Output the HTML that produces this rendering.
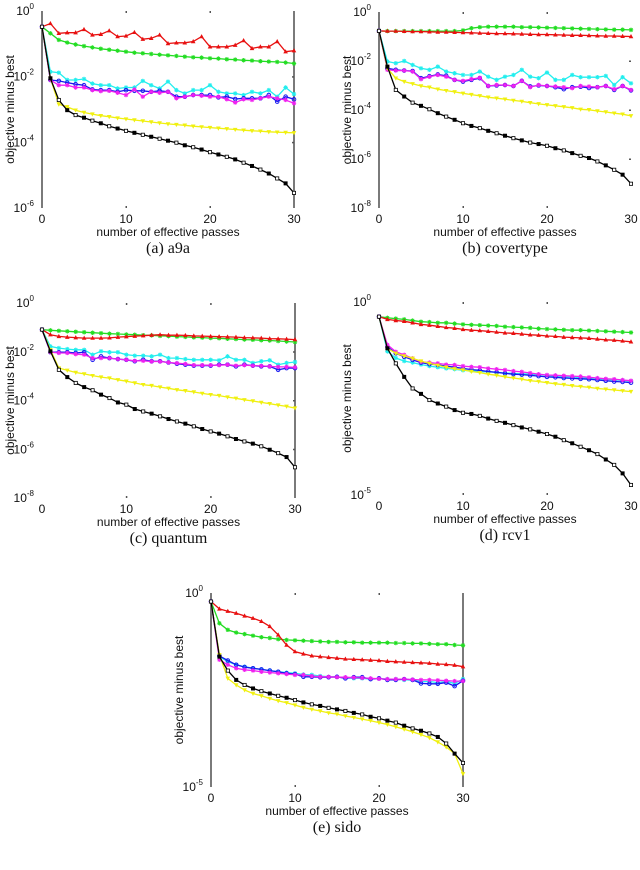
<!DOCTYPE html>
<html><head><meta charset="utf-8"><style>
html,body{margin:0;padding:0;background:#fff;}
svg{display:block;font-family:"Liberation Sans",sans-serif;}
.cap{font-family:"Liberation Serif",serif;font-size:16px;}
</style></head><body>
<svg id="fig" width="640" height="870" viewBox="0 0 640 870" xmlns="http://www.w3.org/2000/svg"></svg>
<script>
// values are -log10(objective minus best), per effective pass 0..30
const passes = [0,1,2,3,4,5,6,7,8,9,10,11,12,13,14,15,16,17,18,19,20,21,22,23,24,25,26,27,28,29,30];
const aRed=[.48,.38,.68,.66,.66,.56,.73,.71,.60,.78,.76,.65,.86,.83,.73,.99,.97,.97,.93,.78,1.09,1.09,1.09,1.04,.90,1.14,1.09,1.09,.93,1.24,1.21];
const aGreen=[.48,.68,.88,.96,1.02,1.07,1.11,1.15,1.18,1.21,1.24,1.27,1.29,1.31,1.33,1.35,1.37,1.39,1.41,1.42,1.44,1.45,1.47,1.48,1.5,1.51,1.53,1.54,1.55,1.57,1.6];
const aCyan=[.48,1.85,1.88,2.1,2.1,2.07,2.21,2.26,2.26,2.36,2.33,2.33,2.13,2.26,2.36,2.15,2.41,2.51,2.41,2.41,2.26,2.46,2.51,2.51,2.56,2.46,2.51,2.41,2.61,2.33,2.53];
const aBlue=[.48,2.1,2.13,2.18,2.23,2.26,2.39,2.41,2.41,2.46,2.41,2.43,2.43,2.46,2.43,2.46,2.61,2.61,2.56,2.56,2.56,2.63,2.61,2.68,2.66,2.66,2.66,2.56,2.76,2.61,2.69];
const aMagenta=[.48,2.1,2.26,2.26,2.33,2.33,2.41,2.44,2.43,2.49,2.56,2.39,2.61,2.46,2.49,2.46,2.66,2.61,2.56,2.58,2.61,2.61,2.69,2.79,2.69,2.71,2.66,2.61,2.66,2.71,2.81];
const aYellow=[.48,2.05,2.84,2.92,3.02,3.09,3.14,3.19,3.22,3.26,3.29,3.32,3.35,3.38,3.41,3.44,3.46,3.48,3.51,3.53,3.55,3.57,3.59,3.61,3.63,3.65,3.66,3.68,3.69,3.7,3.71];
const aBlack=[.48,2.05,2.71,3.02,3.17,3.25,3.34,3.42,3.51,3.58,3.65,3.71,3.77,3.83,3.89,3.95,4.01,4.09,4.15,4.22,4.3,4.37,4.44,4.52,4.62,4.72,4.83,4.95,5.1,5.25,5.54];

const bRed=[.77,.78,.78,.79,.8,.8,.81,.82,.82,.83,.84,.85,.86,.87,.88,.88,.89,.9,.91,.92,.92,.93,.94,.95,.95,.96,.97,.98,.98,.99,1.0];
const bGreen=[.78,.78,.78,.78,.78,.78,.78,.78,.78,.78,.75,.66,.62,.6,.6,.6,.6,.62,.62,.63,.64,.65,.66,.67,.68,.69,.7,.71,.72,.72,.73];
const bCyan=[.77,2.02,2.09,2.0,2.16,2.3,2.36,2.23,2.43,2.5,2.57,2.57,2.43,2.64,2.77,2.64,2.57,2.36,2.64,2.7,2.47,2.77,2.77,2.57,2.66,2.66,2.66,2.61,2.98,2.66,2.91];
const bBlue=[.77,2.3,2.36,2.39,2.41,2.7,2.62,2.55,2.6,2.77,2.84,2.77,2.7,3.02,3.0,2.98,3.02,2.81,3.04,3.0,3.02,3.07,3.15,3.07,3.05,3.1,3.07,3.02,3.18,3.02,3.2];
const bMagenta=[.77,2.36,2.39,2.39,2.43,2.74,2.64,2.57,2.64,2.77,2.81,2.74,2.68,3.02,2.98,2.98,3.02,2.81,3.07,2.98,3.02,3.04,3.07,3.11,3.02,3.04,3.07,3.02,3.15,3.02,3.18];
const bYellow=[.77,2.3,2.7,2.84,2.93,3.02,3.07,3.15,3.21,3.26,3.32,3.37,3.42,3.48,3.52,3.56,3.61,3.65,3.7,3.75,3.79,3.83,3.87,3.91,3.97,3.99,4.04,4.08,4.13,4.17,4.24];
const bBlack=[.77,2.23,3.18,3.45,3.7,3.83,3.97,4.13,4.27,4.4,4.54,4.65,4.74,4.85,4.95,5.05,5.15,5.24,5.33,5.39,5.46,5.56,5.65,5.76,5.87,5.96,6.1,6.26,6.44,6.64,7.01];

const cRed=[1.09,1.3,1.37,1.4,1.42,1.44,1.44,1.44,1.43,1.4,1.38,1.36,1.34,1.32,1.3,1.32,1.32,1.33,1.35,1.36,1.37,1.38,1.39,1.4,1.42,1.43,1.44,1.46,1.47,1.48,1.5];
const cGreen=[1.09,1.12,1.14,1.16,1.18,1.2,1.22,1.24,1.26,1.27,1.29,1.3,1.32,1.33,1.35,1.36,1.38,1.39,1.41,1.42,1.44,1.45,1.47,1.48,1.5,1.51,1.53,1.54,1.56,1.58,1.6];
const cCyan=[1.09,1.78,1.85,1.89,1.92,1.92,2.12,1.98,2.02,2.02,2.12,2.16,2.16,2.19,2.12,2.26,2.26,2.3,2.33,2.33,2.33,2.35,2.19,2.33,2.33,2.46,2.39,2.35,2.53,2.46,2.42];
const cBlue=[1.09,2.02,2.02,2.02,2.05,2.02,2.33,2.19,2.26,2.3,2.33,2.39,2.33,2.39,2.39,2.44,2.49,2.53,2.57,2.57,2.57,2.53,2.53,2.6,2.53,2.57,2.6,2.6,2.74,2.67,2.67];
const cMagenta=[1.09,2.02,2.05,2.05,2.1,2.12,2.26,2.26,2.26,2.3,2.33,2.37,2.37,2.4,2.4,2.44,2.47,2.5,2.55,2.55,2.55,2.55,2.53,2.57,2.55,2.57,2.58,2.6,2.62,2.62,2.64];
const cYellow=[1.09,1.92,2.67,2.76,2.85,2.91,2.98,3.04,3.08,3.15,3.21,3.28,3.35,3.39,3.45,3.5,3.56,3.6,3.65,3.71,3.76,3.8,3.86,3.91,3.97,4.02,4.08,4.13,4.19,4.24,4.31];
const cBlack=[1.09,1.98,2.74,3.04,3.28,3.45,3.58,3.76,3.9,4.08,4.17,4.35,4.45,4.54,4.65,4.76,4.86,4.95,5.06,5.17,5.27,5.36,5.47,5.58,5.68,5.77,5.88,6.02,6.16,6.32,6.74];

const dRed=[.38,.45,.48,.5,.54,.58,.6,.63,.66,.68,.71,.73,.74,.76,.78,.8,.81,.83,.85,.86,.88,.89,.91,.92,.93,.94,.96,.98,.99,1.01,1.03];
const dGreen=[.38,.41,.43,.45,.48,.51,.52,.54,.54,.56,.58,.59,.6,.61,.62,.64,.65,.66,.67,.69,.70,.71,.72,.73,.73,.74,.75,.76,.77,.78,.79];
const dCyan=[.38,1.28,1.45,1.53,1.57,1.62,1.66,1.69,1.72,1.74,1.77,1.78,1.8,1.81,1.82,1.84,1.85,1.86,1.87,1.88,1.9,1.92,1.94,1.94,1.96,1.98,1.99,2.0,2.02,2.03,2.05];
const dBlue=[.38,1.16,1.33,1.42,1.5,1.57,1.61,1.63,1.66,1.69,1.72,1.75,1.77,1.8,1.82,1.85,1.87,1.88,1.9,1.92,1.94,1.95,1.97,1.98,1.99,2.0,2.02,2.04,2.06,2.07,2.09];
const dMagenta=[.38,1.11,1.29,1.37,1.46,1.55,1.57,1.59,1.62,1.63,1.66,1.68,1.69,1.72,1.74,1.76,1.79,1.81,1.84,1.87,1.89,1.9,1.91,1.92,1.93,1.95,1.97,1.99,2.0,2.02,2.04];
const dYellow=[.38,1.2,1.33,1.4,1.46,1.53,1.59,1.64,1.69,1.73,1.76,1.8,1.83,1.87,1.9,1.94,1.97,2.0,2.04,2.06,2.09,2.12,2.14,2.17,2.19,2.21,2.24,2.26,2.28,2.3,2.32];
const dBlack=[.38,1.2,1.59,1.94,2.24,2.38,2.54,2.63,2.71,2.8,2.87,2.9,2.95,3.02,3.08,3.13,3.19,3.25,3.3,3.36,3.42,3.49,3.58,3.66,3.75,3.84,3.94,4.08,4.22,4.44,4.74];

const eRed=[.22,.41,.47,.52,.59,.65,.73,.86,1.08,1.34,1.51,1.57,1.62,1.64,1.66,1.68,1.7,1.71,1.72,1.73,1.74,1.76,1.77,1.78,1.79,1.8,1.81,1.83,1.84,1.86,1.9];
const eGreen=[.22,.78,.95,1.02,1.06,1.1,1.14,1.16,1.19,1.21,1.22,1.23,1.24,1.25,1.26,1.26,1.27,1.27,1.28,1.28,1.28,1.28,1.29,1.29,1.3,1.3,1.31,1.32,1.32,1.34,1.35];
const eCyan=[.22,1.64,1.77,1.85,1.9,1.94,1.97,2.0,2.03,2.05,2.07,2.1,2.11,2.14,2.16,2.17,2.18,2.2,2.2,2.22,2.2,2.22,2.22,2.24,2.24,2.28,2.28,2.31,2.28,2.33,2.22];
const eBlue=[.22,1.62,1.74,1.85,1.91,1.94,1.97,2.0,2.03,2.07,2.09,2.16,2.16,2.17,2.17,2.16,2.2,2.17,2.17,2.22,2.2,2.24,2.24,2.22,2.24,2.33,2.34,2.34,2.31,2.4,2.26];
const eMagenta=[.22,1.72,1.85,1.94,1.98,2.0,2.03,2.05,2.07,2.09,2.11,2.11,2.14,2.16,2.16,2.17,2.17,2.18,2.19,2.2,2.21,2.22,2.22,2.22,2.23,2.24,2.24,2.25,2.26,2.27,2.27];
const eYellow=[.22,1.59,2.2,2.37,2.5,2.59,2.65,2.72,2.78,2.83,2.89,2.95,3.0,3.04,3.09,3.12,3.17,3.21,3.25,3.29,3.34,3.39,3.45,3.51,3.58,3.65,3.73,3.84,3.97,4.14,4.66];
const eBlack=[.22,1.64,2.0,2.24,2.37,2.46,2.53,2.59,2.65,2.7,2.76,2.82,2.87,2.91,2.96,3.0,3.04,3.09,3.13,3.19,3.23,3.29,3.34,3.42,3.49,3.55,3.62,3.71,3.88,4.14,4.38];

const xTicks=[0,10,20,30];
const NS='http://www.w3.org/2000/svg';
const svg=document.getElementById('fig');
function mk(tag,attrs,parent){const e=document.createElementNS(NS,tag);for(const k in attrs)e.setAttribute(k,attrs[k]);(parent||svg).appendChild(e);return e;}

const COLORS={red:'#e81010',green:'#22dd22',cyan:'#22eeee',blue:'#1818f0',magenta:'#f020f0',yellow:'#f0f010',black:'#000000'};
const MARK={red:'tri',green:'star',cyan:'star',blue:'circ',magenta:'star',yellow:'dtri',black:'sq'};

function panel(id,x0,x1,yTop,yBot,decades,labelStep,caption,series,showL,showR){
  const g=mk('g',{});
  
  
  const sx=v=>x0+(x1-x0)*v/30;
  const sy=v=>yTop+(yBot-yTop)*v/decades;
  if(showL){
    const la=mk('line',{x1:x0,y1:yTop,x2:x0,y2:yBot,stroke:'#7a7a7a','stroke-width':2},g);
    
    
  }
  if(showR){
    const ra=mk('line',{x1:x1,y1:yTop,x2:x1,y2:yBot,stroke:'#7a7a7a','stroke-width':2},g);
    
    
  }
  xTicks.forEach(t=>{
    const X=sx(t);
    if(t>0&&t<30){mk('rect',{x:X-0.5,y:yTop,width:1.5,height:2,fill:'#555'},g);mk('rect',{x:X-0.5,y:yBot-2,width:1.5,height:2,fill:'#555'},g);}
    const tl=mk('text',{x:X,y:yBot+15,'font-size':12,'text-anchor':'middle',fill:'#111'},g);
    tl.textContent=t;
    
    
  });
  for(let d=0;d<=decades;d+=labelStep){
    const Y=sy(d);
    const tl=mk('text',{x:x0-8,y:Y+4,'font-size':12,'text-anchor':'end',fill:'#111'},g);
    
    
    tl.appendChild(document.createTextNode('10'));
    const sup=mk('tspan',{dy:-6,'font-size':8},tl);
    sup.textContent=d===0?'0':'-'+d;
    if(d>0&&d<decades) mk('rect',{x:x1-2,y:Y-0.5,width:2,height:1.5,fill:'#555'},g);
  }
  const yl=mk('text',{x:0,y:0,'font-size':12,'text-anchor':'middle',fill:'#111',transform:`translate(${x0-28},${(yTop+yBot)/2}) rotate(-90)`},g);
  yl.textContent='objective minus best';
  
  
  const xl=mk('text',{x:(x0+x1)/2,y:yBot+28,'font-size':12,'text-anchor':'middle',fill:'#111'},g);
  xl.textContent='number of effective passes';
  
  
  const cp=mk('text',{x:(x0+x1)/2,y:yBot+45,'text-anchor':'middle',fill:'#111',class:'cap'},g);
  cp.textContent=caption;
  
  
  const order=['green','red','cyan','blue','magenta','yellow','black'];
  order.forEach(name=>{
    const vals=series[name];const c=COLORS[name];
    const sg=mk('g',{},g);
    
    
    const pts=vals.map((v,i)=>sx(passes[i]).toFixed(1)+','+sy(v).toFixed(1)).join(' ');
    const pl=mk('polyline',{points:pts,fill:'none',stroke:c,'stroke-width':1.3},sg);
    
    
    vals.forEach((v,i)=>{
      const X=sx(passes[i]),Y=sy(v);let m;const k=MARK[name];
      if(k==='tri')m=mk('path',{d:`M${X} ${Y-2.5}L${X+2.3} ${Y+1.7}L${X-2.3} ${Y+1.7}Z`,fill:c},sg);
      else if(k==='dtri')m=mk('path',{d:`M${X} ${Y+2.5}L${X+2.3} ${Y-1.7}L${X-2.3} ${Y-1.7}Z`,fill:c},sg);
      else if(k==='circ')m=mk('circle',{cx:X,cy:Y,r:1.8,fill:'none',stroke:c,'stroke-width':1},sg);
      else if(k==='sq')m=mk('rect',{x:X-1.6,y:Y-1.6,width:3.2,height:3.2,fill:i%2?'#000':'#fff',stroke:'#000','stroke-width':0.8},sg);
      else m=mk('path',{d:`M${X-2.2} ${Y}H${X+2.2}M${X} ${Y-2.2}V${Y+2.2}M${X-1.6} ${Y-1.6}L${X+1.6} ${Y+1.6}M${X-1.6} ${Y+1.6}L${X+1.6} ${Y-1.6}`,stroke:c,'stroke-width':1},sg);
      
      
    });
  });
}
panel('a9a',42,294,11,208,6,2,'(a)  a9a',{red:aRed,green:aGreen,cyan:aCyan,blue:aBlue,magenta:aMagenta,yellow:aYellow,black:aBlack},true,true);
panel('covertype',379,631,12,208,8,2,'(b)  covertype',{red:bRed,green:bGreen,cyan:bCyan,blue:bBlue,magenta:bMagenta,yellow:bYellow,black:bBlack},true,false);
panel('quantum',42,295,303,498,8,2,'(c)  quantum',{red:cRed,green:cGreen,cyan:cCyan,blue:cBlue,magenta:cMagenta,yellow:cYellow,black:cBlack},false,true);
panel('rcv1',379,631,302,495,5,5,'(d)  rcv1',{red:dRed,green:dGreen,cyan:dCyan,blue:dBlue,magenta:dMagenta,yellow:dYellow,black:dBlack},false,false);
panel('sido',211,463,593,787,5,5,'(e)  sido',{red:eRed,green:eGreen,cyan:eCyan,blue:eBlue,magenta:eMagenta,yellow:eYellow,black:eBlack},true,true);
</script>
</body></html>
